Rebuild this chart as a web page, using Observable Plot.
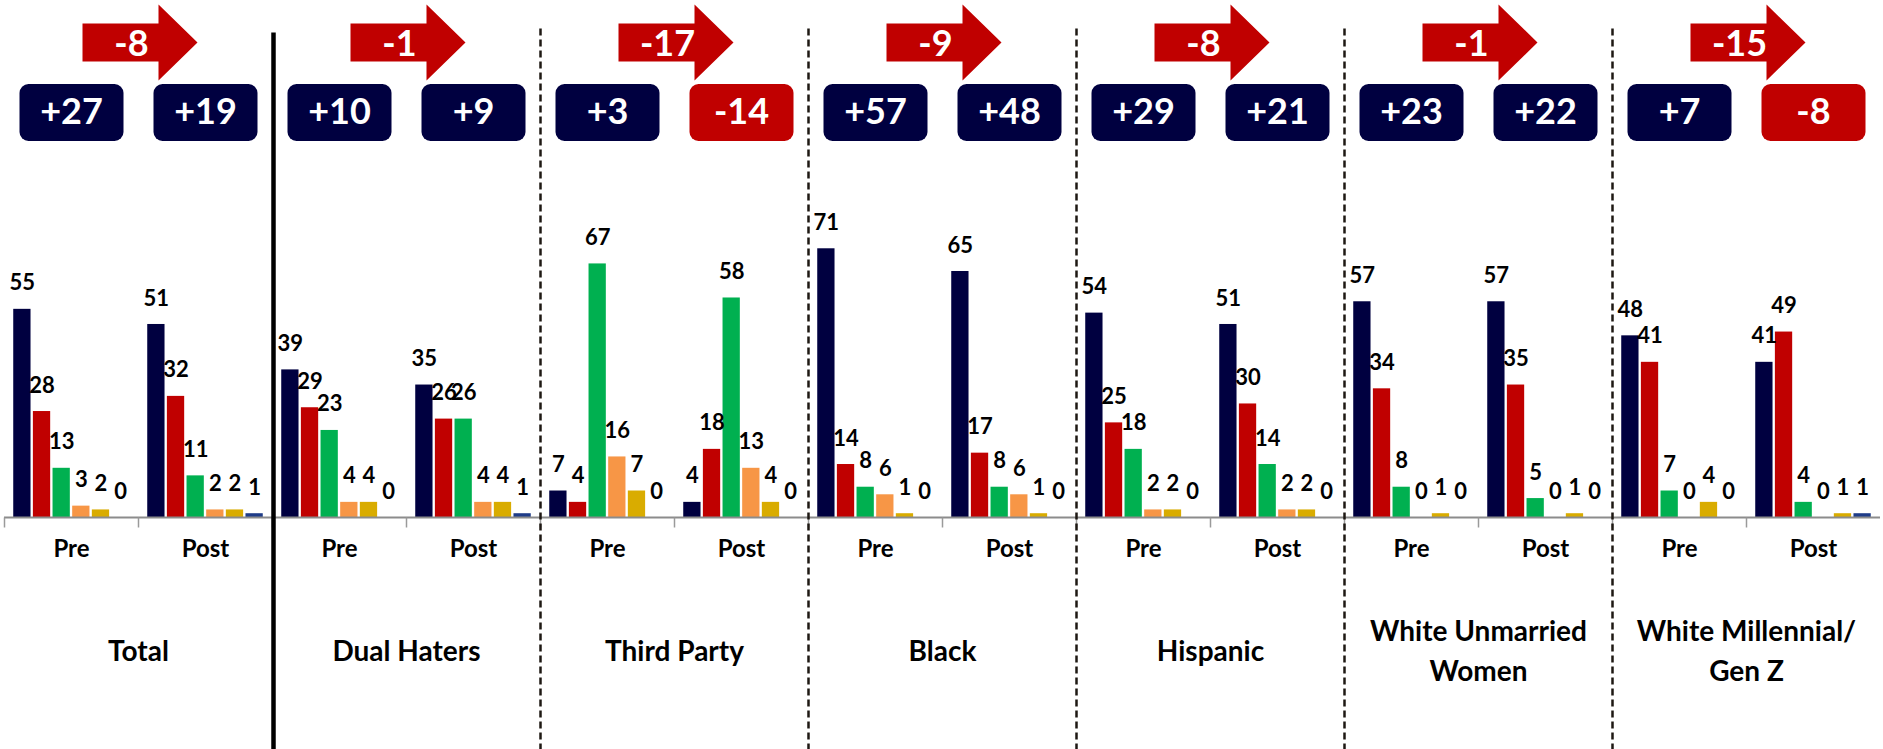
<!DOCTYPE html>
<html>
<head>
<meta charset="utf-8">
<script src="https://cdn.jsdelivr.net/npm/d3@7"></script>
<script src="https://cdn.jsdelivr.net/npm/@observablehq/plot@0.6"></script>
<style>
  html, body { margin: 0; padding: 0; background: #ffffff; }
  #chart svg { display: block; }
</style>
</head>
<body>
<div id="chart"></div>
<script>
// ---------- data ----------
const groups = ["Total", "Dual Haters", "Third Party", "Black", "Hispanic", "White Unmarried\nWomen", "White Millennial/\nGen Z"];
const periods = ["Pre", "Post"];
const seriesNames = ["Democrat", "Republican", "Third party", "Other", "Undecided", "Refused"];

// one value per group, in the order of `groups`
const navyPre    = [55, 39,  7, 71, 54, 57, 48];
const navyPost   = [51, 35,  4, 65, 51, 57, 41];
const redPre     = [28, 29,  4, 14, 25, 34, 41];
const redPost    = [32, 26, 18, 17, 30, 35, 49];
const greenPre   = [13, 23, 67,  8, 18,  8,  7];
const greenPost  = [11, 26, 58,  8, 14,  5,  4];
const orangePre  = [ 3,  4, 16,  6,  2,  0,  0];
const orangePost = [ 2,  4, 13,  6,  2,  0,  0];
const goldPre    = [ 2,  4,  7,  1,  2,  1,  4];
const goldPost   = [ 2,  4,  4,  1,  2,  1,  1];
const bluePre    = [ 0,  0,  0,  0,  0,  0,  0];
const bluePost   = [ 1,  1,  0,  0,  0,  0,  1];

// margins shown in the boxes and change shown in the arrows
const marginPre    = [27, 10,   3, 57, 29, 23,   7];
const marginPost   = [19,  9, -14, 48, 21, 22,  -8];
const marginChange = [-8, -1, -17, -9, -8, -1, -15];

// ---------- styling ----------
const NAVY = "#000040";
const RED = "#c00000";
const seriesColors = [NAVY, RED, "#00b050", "#f79646", "#d9ac00", "#1f3c88"];
const FONT = "Lato, 'Open Sans', 'DejaVu Sans', sans-serif";

// ---------- tables built from the arrays ----------
const seriesPre = [navyPre, redPre, greenPre, orangePre, goldPre, bluePre];
const seriesPost = [navyPost, redPost, greenPost, orangePost, goldPost, bluePost];
const keyOf = (g, p) => g + "|" + p;
const keys = groups.flatMap(g => periods.map(p => keyOf(g, p)));

const rows = [];
groups.forEach((g, i) => {
  periods.forEach(p => {
    const src = p === "Pre" ? seriesPre : seriesPost;
    seriesNames.forEach((s, j) => rows.push({key: keyOf(g, p), series: s, value: src[j][i]}));
  });
});

const facetRows = [];
groups.forEach((g, i) => {
  facetRows.push({key: keyOf(g, "Pre"), period: "Pre", margin: marginPre[i]});
  facetRows.push({key: keyOf(g, "Post"), period: "Post", margin: marginPost[i]});
});

const groupRows = groups.map((g, i) => ({key: keyOf(g, "Pre"), label: g, change: marginChange[i], index: i}));

const fmtSigned = v => (v > 0 ? "+" : "") + v;

// ---------- custom shapes (Plot symbol objects) ----------
const arrowSymbol = {
  draw(ctx) {
    ctx.moveTo(-56, -19);
    ctx.lineTo(20, -19);
    ctx.lineTo(20, -38);
    ctx.lineTo(59, 0);
    ctx.lineTo(20, 38);
    ctx.lineTo(20, 19);
    ctx.lineTo(-56, 19);
    ctx.closePath();
  }
};
const boxSymbol = {
  draw(ctx) {
    const w = 52, h = 28.5, r = 9;
    ctx.moveTo(-w + r, -h);
    ctx.lineTo(w - r, -h);
    ctx.arcTo(w, -h, w, -h + r, r);
    ctx.lineTo(w, h - r);
    ctx.arcTo(w, h, w - r, h, r);
    ctx.lineTo(-w + r, h);
    ctx.arcTo(-w, h, -w, h - r, r);
    ctx.lineTo(-w, -h + r);
    ctx.arcTo(-w, -h, -w + r, -h, r);
    ctx.closePath();
  }
};
const tickSymbol = { draw(ctx) { ctx.moveTo(0, 0); ctx.lineTo(0, 10); } };
const dashedSepSymbol = { draw(ctx) { ctx.moveTo(0, -489); ctx.lineTo(0, 232); } };
const solidSepSymbol = { draw(ctx) { ctx.moveTo(1, -485); ctx.lineTo(1, 232); } };

const chart = Plot.plot({
  width: 1883,
  height: 749,
  marginTop: 0,
  marginRight: 0,
  marginBottom: 232,
  marginLeft: 0,
  style: {fontFamily: FONT, background: "#ffffff", color: "#000000"},
  fx: {domain: keys, padding: 0, axis: null, label: null},
  x: {domain: seriesNames, paddingInner: 0.12, paddingOuter: 0.47, round: false, axis: null},
  y: {domain: [0, 136.6], axis: null},
  color: {domain: [...seriesNames, "lead+", "lead-"], range: [...seriesColors, NAVY, RED]},
  marks: [
    // bars
    Plot.barY(rows, {fx: "key", x: "series", y: "value", fill: "series"}),
    // baseline and category ticks
    Plot.ruleY([0], {stroke: "#8c8c8c", strokeWidth: 2}),
    Plot.dot(facetRows, {fx: "key", frameAnchor: "bottom-left", symbol: tickSymbol, r: 1, fill: "none", stroke: "#9a9a9a", strokeWidth: 1.5}),
    // value labels
    Plot.text(rows, {fx: "key", x: "series", y: "value", text: d => String(d.value), dy: -26, lineAnchor: "middle",
      fontSize: 22, fontWeight: "bold", fontFamily: FONT, fill: "#000000"}),
    // group separators
    Plot.dot(groupRows.filter(d => d.index === 1), {fx: "key", frameAnchor: "bottom-left", symbol: solidSepSymbol, r: 1,
      fill: "none", stroke: "#000000", strokeWidth: 4.5}),
    Plot.dot(groupRows.filter(d => d.index > 1), {fx: "key", frameAnchor: "bottom-left", symbol: dashedSepSymbol, r: 1,
      fill: "none", stroke: "#1e1813", strokeWidth: 2.5, strokeDasharray: "7,4"}),
    // Pre / Post labels
    Plot.text(facetRows, {fx: "key", text: "period", frameAnchor: "bottom", dy: 31.5, lineAnchor: "middle",
      textAnchor: "middle", fontSize: 24, fontWeight: "bold", fontFamily: FONT, fill: "#000000"}),
    // group labels (centred on the Pre/Post boundary)
    Plot.text(groupRows, {fx: "key", text: "label", frameAnchor: "bottom-right", dy: 131, lineAnchor: "middle",
      textAnchor: "middle", lineHeight: 1.43, fontSize: 28, fontWeight: "bold", fontFamily: FONT, fill: "#000000"}),
    // margin boxes
    Plot.dot(facetRows, {fx: "key", frameAnchor: "top", dy: 112, symbol: boxSymbol, r: 1,
      fill: d => d.margin >= 0 ? "lead+" : "lead-", stroke: "none"}),
    Plot.text(facetRows, {fx: "key", frameAnchor: "top", dy: 112, text: d => fmtSigned(d.margin), lineAnchor: "middle",
      textAnchor: "middle", fontSize: 36, fontWeight: "bold", fontFamily: FONT, fill: "#ffffff"}),
    // change arrows
    Plot.dot(groupRows, {fx: "key", frameAnchor: "top-right", dy: 42, symbol: arrowSymbol, r: 1, fill: RED, stroke: "none"}),
    Plot.text(groupRows, {fx: "key", frameAnchor: "top-right", dy: 43.5, dx: -7, text: d => fmtSigned(d.change),
      lineAnchor: "middle", textAnchor: "middle", fontSize: 36, fontWeight: "bold", fontFamily: FONT, fill: "#ffffff"})
  ]
});

document.getElementById("chart").appendChild(chart);
</script>
</body>
</html>
